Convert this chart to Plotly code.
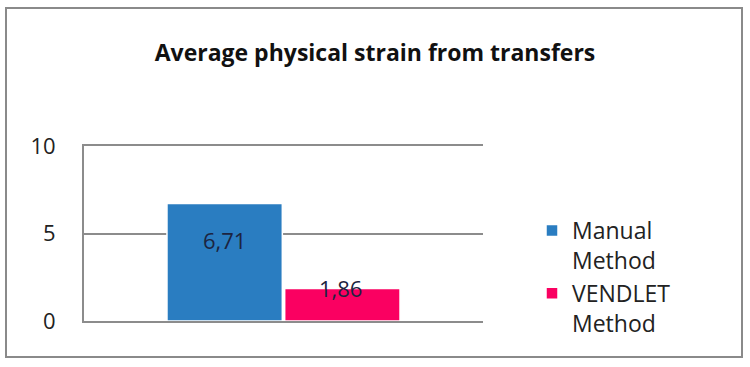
import plotly.graph_objects as go

categories = ["Average physical strain from transfers"]
series_names = ["Manual<br>Method", "VENDLET<br>Method"]
manual_values = [6.71]
vendlet_values = [1.86]
value_labels = ["6,71", "1,86"]
tick_values = [0, 5, 10]
tick_labels = ["0", "5", "10"]

colors = ["#2A7DC1", "#FA0061"]
label_shifts = [-36, 0]
FONT = "Open Sans, Liberation Sans, sans-serif"

fig = go.Figure()
for name, vals, col in zip(series_names, [manual_values, vendlet_values], colors):
    fig.add_trace(go.Bar(
        x=categories, y=vals, name=name,
        marker=dict(color=col, line=dict(color="white", width=1.5)),
        hoverinfo="skip",
    ))

for i, (vals, lab) in enumerate(zip([manual_values, vendlet_values], value_labels)):
    fig.add_annotation(
        x=categories[0], y=vals[0], text=lab, showarrow=False,
        xshift=(-59 if i == 0 else 57), yshift=label_shifts[i],
        font=dict(family=FONT, size=22, color="#1c2440"),
    )

fig.update_layout(
    width=750, height=367,
    margin=dict(l=84, r=267, t=146, b=46, autoexpand=False),
    paper_bgcolor="white", plot_bgcolor="white",
    barmode="group", bargap=0.41, bargroupgap=0.02,
    title=dict(text="<b>Average physical strain from transfers</b>",
               x=0.5, xanchor="center", y=1 - 53 / 367, yanchor="middle",
               font=dict(family=FONT, size=23, color="#111111")),
    showlegend=True,
    legend=dict(x=(532 - 84) / 399, xanchor="left", y=(321 - 277) / 175, yanchor="middle",
                font=dict(family=FONT, size=23, color="#222222"), valign="top",
                itemwidth=30, tracegroupgap=0, bgcolor="rgba(0,0,0,0)"),
    xaxis=dict(showticklabels=False, showgrid=False, zeroline=False,
               showline=True, mirror=True, linecolor="#8c8c8c", linewidth=2),
    yaxis=dict(range=[0, 10], tickvals=tick_values, ticktext=tick_labels,
               showgrid=True, gridcolor="#8c8c8c", gridwidth=2, automargin=False,
               zeroline=False, showline=True, linecolor="#8c8c8c", linewidth=2,
               ticks="outside", ticklen=22, tickcolor="rgba(0,0,0,0)",
               tickfont=dict(family=FONT, size=22, color="#222222")),
)

fig.add_shape(type="rect", xref="paper", yref="paper",
              x0=(6 - 84) / 399, x1=(742 - 84) / 399,
              y0=(321 - 357) / 175, y1=(321 - 8) / 175,
              line=dict(color="#8a8a8a", width=2), fillcolor="rgba(0,0,0,0)", layer="below")

fig.write_html("out.html", config={"displayModeBar": False},
               post_script="document.body.style.margin='0';")
